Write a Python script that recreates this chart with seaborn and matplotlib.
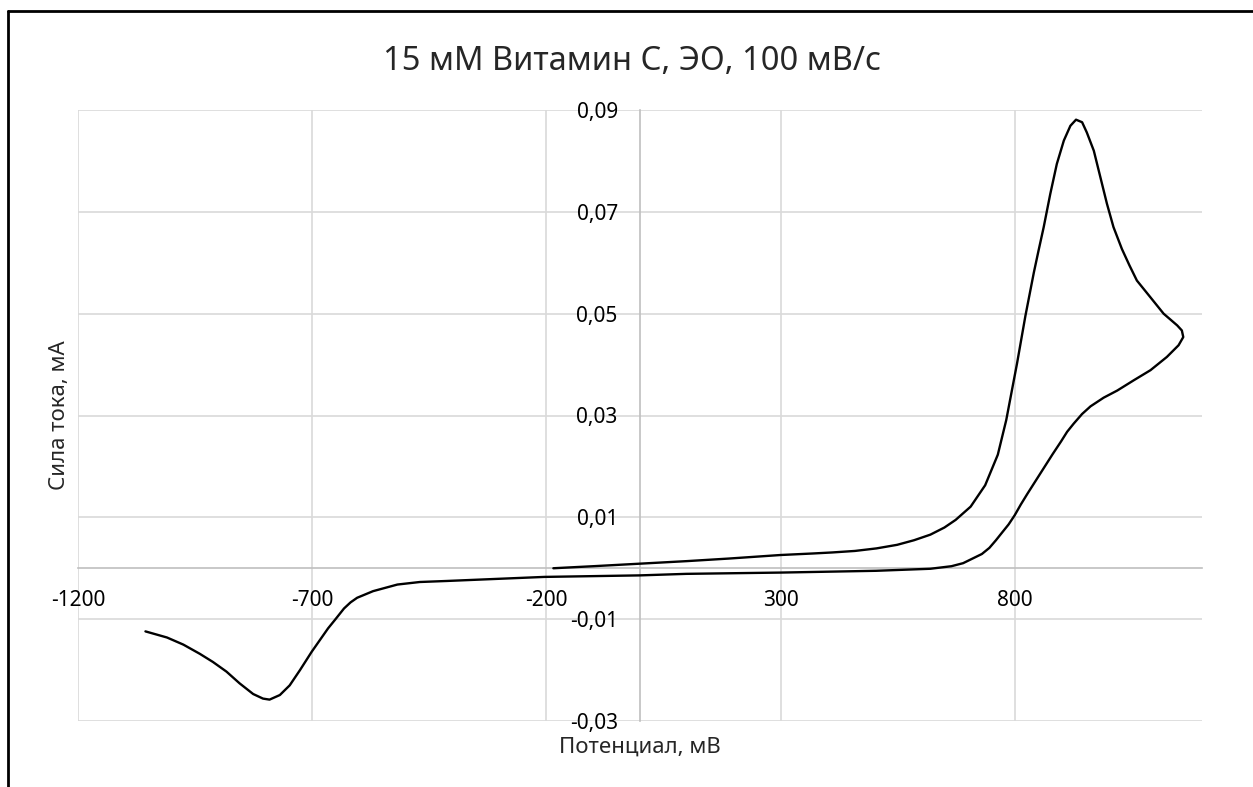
import numpy as np
import pandas as pd
import matplotlib
matplotlib.use("Agg")
import matplotlib.pyplot as plt
import seaborn as sns
from matplotlib.ticker import FuncFormatter, FixedLocator
from matplotlib.lines import Line2D

# cyclic voltammogram (sweep order: forward, then back)
potential = [-185, -100, 0, 100, 189, 300, 369, 410, 459, 505, 549, 585, 620, 650, 674,
             706, 737, 764, 782, 805, 823, 841, 851, 862, 876, 890, 905, 919, 931, 944,
             954, 969, 983, 997, 1011, 1029, 1045, 1061, 1090, 1118, 1147, 1157,
             1160, 1150, 1125, 1090, 1054, 1019, 990, 962, 944, 926, 912, 899, 881, 863,
             845, 827, 813, 800, 787, 773, 760, 746, 730, 710, 690, 665, 620, 504, 300,
             99, 0, -204, -413, -470, -518, -570, -604, -618, -632, -651, -666, -701,
             -726, -748, -769, -791, -805, -826, -855, -883, -912, -940, -975, -1010, -1056]
current = [0.0000, 0.0004, 0.0009, 0.0014, 0.0019, 0.0026, 0.0029, 0.0031, 0.0034, 0.0039,
           0.0046, 0.0055, 0.0066, 0.0080, 0.0095, 0.0121, 0.0163, 0.0223, 0.0291, 0.0402,
           0.0496, 0.0581, 0.0624, 0.0670, 0.0735, 0.0794, 0.0840, 0.0869, 0.0881, 0.0876,
           0.0856, 0.0820, 0.0768, 0.0716, 0.0670, 0.0627, 0.0595, 0.0565, 0.0532, 0.0500,
           0.0477, 0.0467,
           0.0454, 0.0438, 0.0415, 0.0389, 0.0369, 0.0349, 0.0335, 0.0318, 0.0303, 0.0284,
           0.0268, 0.0249, 0.0224, 0.0198, 0.0172, 0.0146, 0.0125, 0.0104, 0.0086, 0.0070,
           0.0055, 0.0040, 0.0028, 0.0019, 0.0010, 0.0004, -0.0001, -0.0005, -0.00085,
           -0.0011, -0.0014, -0.0017, -0.0025, -0.0027, -0.0032, -0.0045, -0.0058, -0.0067,
           -0.0079, -0.0101, -0.0118, -0.0164, -0.0200, -0.0230, -0.0249, -0.0258, -0.0256,
           -0.0247, -0.0226, -0.0203, -0.0184, -0.0168, -0.0150, -0.0136, -0.0124]

x_ticks = [-1200, -700, -200, 300, 800]
y_ticks = [-0.03, -0.01, 0.01, 0.03, 0.05, 0.07, 0.09]

cv = pd.DataFrame({"E": potential, "I": current})

sns.set_theme(style="white")
plt.rcParams["font.family"] = ["Noto Sans", "DejaVu Sans"]

fig = plt.figure(figsize=(12.53, 7.87), dpi=100)
ax = fig.add_axes([78 / 1253, 1 - 721 / 787, (1202 - 78) / 1253, (721 - 110) / 787])

sns.lineplot(data=cv, x="E", y="I", sort=False, estimator=None, color="black",
             linewidth=1.7, ax=ax, zorder=3, solid_joinstyle="round")

ax.set_xlim(-1200, 1200)
ax.set_ylim(-0.03, 0.09)
ax.xaxis.set_major_locator(FixedLocator(x_ticks))
ax.yaxis.set_major_locator(FixedLocator(y_ticks))
ax.xaxis.set_major_formatter(FuncFormatter(lambda v, p: f"{v:.0f}"))
ax.yaxis.set_major_formatter(FuncFormatter(lambda v, p: f"{v:.2f}".replace(".", ",")))

ax.grid(True, color="#d9d9d9", linewidth=1.2)
ax.set_axisbelow(True)
for s in ["top", "right"]:
    ax.spines[s].set_visible(False)
ax.spines["left"].set_position(("data", 0))
ax.spines["bottom"].set_position(("data", 0))
for s in ["left", "bottom"]:
    ax.spines[s].set_color("#bfbfbf")
    ax.spines[s].set_linewidth(1.2)
    ax.spines[s].set_zorder(2)

ax.tick_params(axis="x", length=0, pad=16, labelsize=15, colors="black")
ax.tick_params(axis="y", length=0, pad=16, labelsize=15, colors="black")
ax.set_xlabel("")
ax.set_ylabel("")

fig.text(632 / 1253, 1 - 61 / 787, "15 мМ Витамин С, ЭО, 100 мВ/с", ha="center",
         va="center", fontsize=23.5)
fig.text(640 / 1253, 1 - 747 / 787, "Потенциал, мВ", ha="center", va="center", fontsize=16)
fig.text(59 / 1253, 1 - 415 / 787, "Сила тока, мА", ha="center", va="center",
         rotation=90, fontsize=16)

# chart frame: only the top and left edges show
fig.add_artist(Line2D([8 / 1253, 8 / 1253], [0, 1 - 11 / 787], color="black", linewidth=2))
fig.add_artist(Line2D([8 / 1253, 1], [1 - 11 / 787, 1 - 11 / 787], color="black", linewidth=2))

fig.savefig("out.png", dpi=100)
